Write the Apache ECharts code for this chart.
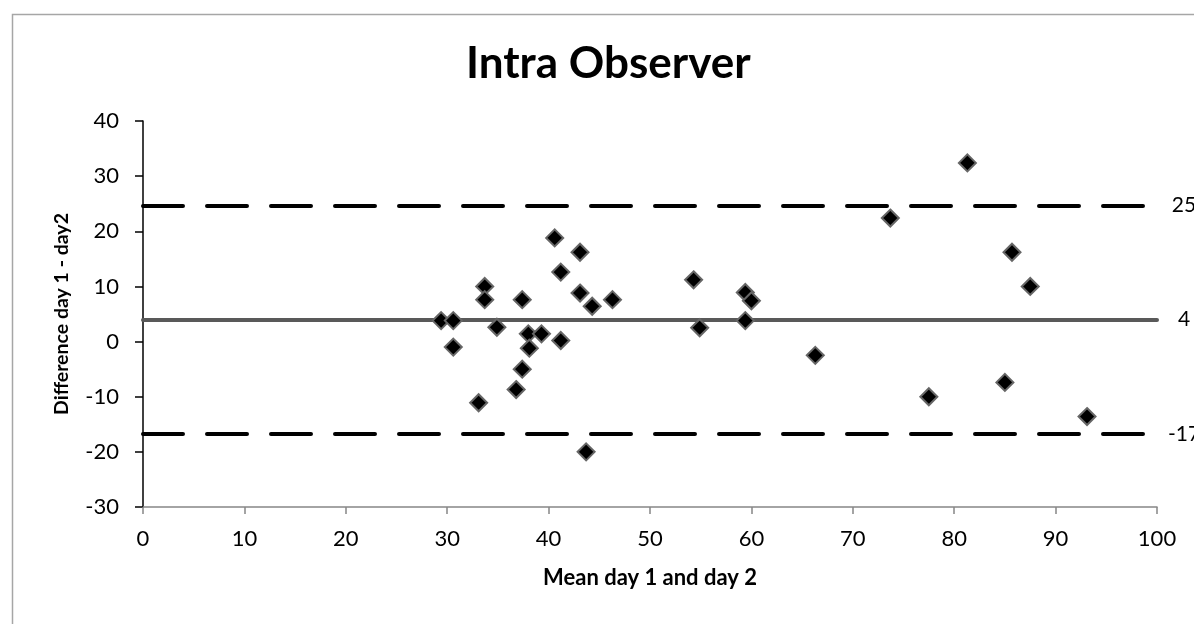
<!DOCTYPE html>
<html>
<head>
<meta charset="utf-8">
<script src="https://cdn.jsdelivr.net/npm/echarts@6/dist/echarts.min.js"></script>
<style>
html,body{margin:0;padding:0;background:#fff;}
#chart{width:1194px;height:624px;}
</style>
</head>
<body>
<div id="chart"></div>
<script>
// Data
var meanValues = [29.4, 30.6, 30.6, 33.1, 33.7, 33.7, 34.9, 36.8, 37.4, 37.4, 38.0, 38.1, 39.3, 40.6, 41.2, 41.2, 43.1, 43.1, 43.7, 44.3, 46.3, 54.3, 54.9, 59.4, 60.0, 59.4, 66.3, 73.7, 77.5, 81.3, 85.0, 85.7, 87.5, 93.1];
var diffValues = [3.8, 3.8, -1.0, -11.1, 10.0, 7.6, 2.6, -8.7, 7.6, -5.0, 1.4, -1.2, 1.4, 18.8, 12.6, 0.2, 16.2, 8.8, -20.0, 6.4, 7.6, 11.2, 2.5, 8.9, 7.4, 3.8, -2.5, 22.4, -10.0, 32.4, -7.4, 16.2, 10.0, -13.6];
var meanDiff = 3.97;
var upperLimit = 24.7;
var lowerLimit = -16.75;
var xTicks = {min: 0, max: 100, interval: 10};
var yTicks = {min: -30, max: 40, interval: 10};

var points = meanValues.map(function (m, i) { return [m, diffValues[i]]; });
var FONT = 'Lato';

function limitLine(v, color, type) {
  return {
    yAxis: v,
    lineStyle: {color: color, width: 4, type: type, cap: 'round'},
    label: {
      show: true, position: 'end', distance: 27, align: 'center',
      formatter: function (p) { return String(Math.round(p.value)); },
      color: '#000', fontFamily: FONT, fontSize: 21
    }
  };
}

var chart = echarts.init(document.getElementById('chart'), null, {renderer: 'canvas'});
chart.setOption({
  animation: false,
  backgroundColor: '#fff',
  graphic: [{
    type: 'rect', left: 10, top: 12,
    shape: {width: 1300, height: 700},
    style: {fill: 'none', stroke: '#a6a6a6', lineWidth: 1.5},
    silent: true
  }],
  title: {
    text: 'Intra Observer', left: 461, top: 37,
    textStyle: {fontFamily: FONT, fontWeight: 'bold', fontSize: 44, color: '#000'}
  },
  grid: {left: 143, right: 37, top: 121, bottom: 117, containLabel: false},
  xAxis: {
    type: 'value', min: xTicks.min, max: xTicks.max, interval: xTicks.interval,
    name: 'Mean day 1 and day 2', nameLocation: 'middle', nameGap: 60,
    nameTextStyle: {fontFamily: FONT, fontWeight: 'bold', fontSize: 22, color: '#000'},
    axisLine: {onZero: false, lineStyle: {color: '#868686', width: 1.5}},
    axisTick: {show: true, length: 7, lineStyle: {color: '#868686', width: 1.5}},
    axisLabel: {fontFamily: FONT, fontSize: 22, color: '#000', margin: 21},
    splitLine: {show: false}
  },
  yAxis: {
    type: 'value', min: yTicks.min, max: yTicks.max, interval: yTicks.interval,
    name: 'Difference day 1 - day2', nameLocation: 'middle', nameGap: 71,
    nameTextStyle: {fontFamily: FONT, fontWeight: 'bold', fontSize: 19.5, color: '#000'},
    axisLine: {show: true, onZero: false, lineStyle: {color: '#000', width: 1.5}},
    axisTick: {show: true, length: 8, lineStyle: {color: '#000', width: 1.5}},
    axisLabel: {fontFamily: FONT, fontSize: 22, color: '#000', margin: 24},
    splitLine: {show: false}
  },
  series: [{
    type: 'scatter',
    data: points,
    symbol: 'diamond',
    symbolSize: 17,
    itemStyle: {color: '#000', borderColor: '#666', borderWidth: 2, opacity: 1},
    z: 5,
    markLine: {
      silent: true,
      symbol: ['none', 'none'],
      z: 3,
      data: [
        limitLine(upperLimit, '#000', [40, 24]),
        limitLine(meanDiff, '#595959', 'solid'),
        limitLine(lowerLimit, '#000', [40, 24])
      ]
    }
  }]
});
</script>
</body>
</html>
